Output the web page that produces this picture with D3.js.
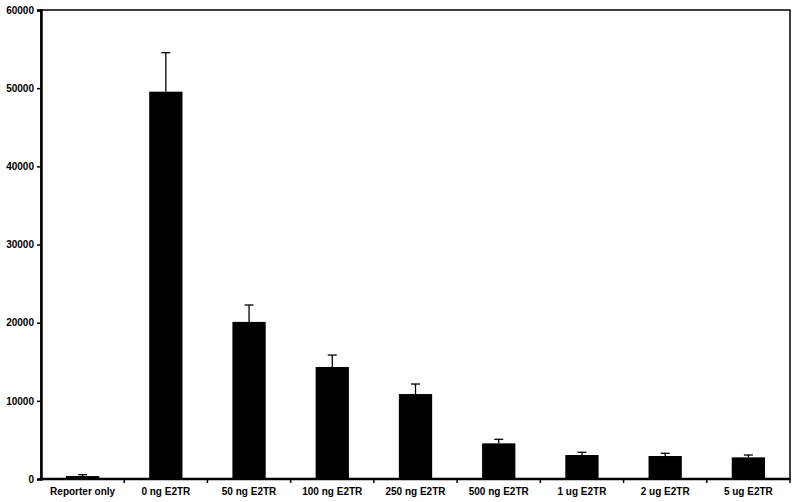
<!DOCTYPE html>
<html><head><meta charset="utf-8">
<script src="https://cdn.jsdelivr.net/npm/d3@7"></script>
<style>
html,body{margin:0;padding:0;background:#fff;}
svg text{font-family:"Liberation Sans",Arial,sans-serif;font-weight:bold;font-size:10px;fill:#000;}
</style></head><body>
<svg id="c" width="800" height="502"></svg>
<script>
const categories = ["Reporter only","0 ng E2TR","50 ng E2TR","100 ng E2TR","250 ng E2TR","500 ng E2TR","1 ug E2TR","2 ug E2TR","5 ug E2TR"];
const values = [380, 49550, 20100, 14330, 10870, 4560, 3070, 2940, 2770];
const errors = [170, 4990, 2160, 1530, 1280, 520, 350, 350, 300];
const yTicks = [0,10000,20000,30000,40000,50000,60000];

const svg = d3.select("#c");
const m = {left:41, right:10, top:10, bottom:23};
const W = 800, H = 502;
const x = d3.scaleBand().domain(categories).range([m.left, W - m.right]).paddingInner(0).paddingOuter(0);
const y = d3.scaleLinear().domain([0,60000]).range([H - m.bottom, m.top]);

// frame
svg.append("rect").attr("x", m.left).attr("y", m.top)
  .attr("width", W - m.right - m.left).attr("height", H - m.bottom - m.top)
  .attr("fill","none").attr("stroke","#000").attr("stroke-width",1.5);

const bw = x.bandwidth()*0.4;
// error bars
const eg = svg.append("g");
categories.forEach((c,i)=>{
  const cx = x(c) + x.bandwidth()/2;
  eg.append("line").attr("x1",cx).attr("x2",cx).attr("y1",y(values[i])).attr("y2",y(values[i]+errors[i])).attr("stroke","#000").attr("stroke-width",1.3);
  eg.append("line").attr("x1",cx-4.5).attr("x2",cx+4.5).attr("y1",y(values[i]+errors[i])).attr("y2",y(values[i]+errors[i])).attr("stroke","#000").attr("stroke-width",1.3);
});
// bars
svg.append("g").selectAll("rect").data(categories).join("rect")
  .attr("x", d => x(d) + x.bandwidth()/2 - bw/2)
  .attr("width", bw)
  .attr("y", (d,i) => y(values[i]))
  .attr("height", (d,i) => y(0) - y(values[i]))
  .attr("fill","#000");

// y axis
const ya = svg.append("g").attr("transform",`translate(${m.left},0)`)
  .call(d3.axisLeft(y).tickValues(yTicks).tickFormat(d3.format("d")).tickSize(4).tickPadding(3));
ya.select(".domain").attr("stroke-width",2.5);
ya.selectAll(".tick line").attr("stroke-width",1.5);
ya.selectAll("text").style("font-size","10px");

// x axis
const xa = svg.append("g").attr("transform",`translate(0,${H - m.bottom})`);
xa.append("line").attr("x1",m.left).attr("x2",W-m.right).attr("stroke","#000").attr("stroke-width",2.5);
const bounds = categories.map(c=>x(c)).concat([x(categories[categories.length-1])+x.bandwidth()]);
xa.selectAll(".tk").data(bounds.slice(1)).join("line").attr("class","tk")
  .attr("x1",d=>d).attr("x2",d=>d).attr("y1",0).attr("y2",4).attr("stroke","#000").attr("stroke-width",1.5);
xa.selectAll(".lb").data(categories).join("text").attr("class","lb")
  .attr("x", d=> x(d)+x.bandwidth()/2).attr("y",15.5).attr("text-anchor","middle").text(d=>d);
</script></body></html>
